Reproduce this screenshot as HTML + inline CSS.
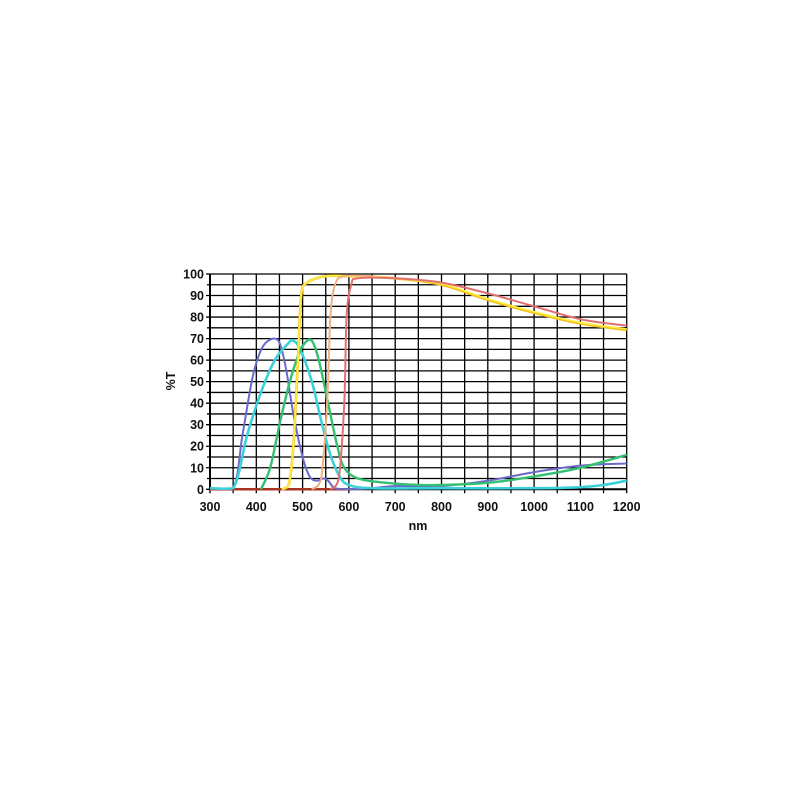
<!DOCTYPE html>
<html><head><style>body{margin:0;background:#fff}svg{display:block}text{font-family:"Liberation Sans",Arial,sans-serif;font-weight:bold;font-size:12.5px;fill:#111}</style></head>
<body>
<svg width="800" height="800" viewBox="0 0 800 800" id="s"></svg>
<script>
const s=document.getElementById('s');const NS='http://www.w3.org/2000/svg';
const X=n=>210+(n-300)*416.7/900, Y=p=>489.3-p*2.153;
function el(t,a,txt){const e=document.createElementNS(NS,t);for(const k in a)e.setAttribute(k,a[k]);if(txt!==undefined)e.textContent=txt;s.appendChild(e);return e;}
for(let p=0;p<=100;p+=5)el('line',{x1:X(300)-(p%10?3:4),x2:X(1200),y1:Y(p),y2:Y(p),stroke:'#000','stroke-width':1.3});
for(let n=300;n<=1200;n+=50)el('line',{x1:X(n),x2:X(n),y1:Y(100),y2:Y(0)+4,stroke:'#000','stroke-width':1.3});
el('line',{x1:X(300),x2:X(300),y1:Y(100),y2:Y(0),stroke:'#000','stroke-width':2});
el('line',{x1:X(300),x2:X(1200),y1:Y(0),y2:Y(0),stroke:'#000','stroke-width':2});
for(let p=0;p<=100;p+=10)el('text',{x:X(300)-6,y:Y(p)+4.5,'text-anchor':'end'},p);
for(let n=300;n<=1200;n+=100)el('text',{x:X(n),y:511,'text-anchor':'middle'},n);
el('text',{x:418,y:530,'text-anchor':'middle'},'nm');
el('text',{x:0,y:0,'text-anchor':'middle',transform:'translate(175,381) rotate(-90)','font-size':'11px'},'%T');
const cl=y=>Math.min(Y(0),Math.max(Y(100),y));
function curve(pts,c,w){const xs=[],ys=[];for(let i=0;i<pts.length;i+=2){xs.push(pts[i]);ys.push(pts[i+1]);}
let str='M'+X(xs[0])+','+Y(ys[0]);
for(let i=0;i<xs.length-1;i++){const p0=[X(xs[Math.max(0,i-1)]),Y(ys[Math.max(0,i-1)])],p1=[X(xs[i]),Y(ys[i])],p2=[X(xs[i+1]),Y(ys[i+1])],p3=[X(xs[Math.min(xs.length-1,i+2)]),Y(ys[Math.min(xs.length-1,i+2)])];
str+=' C'+(p1[0]+(p2[0]-p0[0])/6)+','+cl(p1[1]+(p2[1]-p0[1])/6)+' '+(p2[0]-(p3[0]-p1[0])/6)+','+cl(p2[1]-(p3[1]-p1[1])/6)+' '+p2[0]+','+p2[1];}
el('path',{d:str,fill:'none',stroke:c,'stroke-width':w||2.2,'stroke-linejoin':'round'});}
curve([300,0,600,0],'#aa3322',2.5);
curve([300,0.5,350,0.5,370,25,390,50,405,62,420,68,440,70,452,67,465,55,480,35,500,15,515,6,530,4,545,5,555,4,570,0.5,600,0,650,0.5,700,1.5,800,1.5,900,4,1000,8,1100,11,1200,12],'#6a6acc',2);
curve([300,0.5,350,0.5,380,25,410,45,440,60,470,68,480,69,495,65,520,50,540,32,560,16,580,6,600,2,650,0.5,800,0.5,1000,0.5,1100,1,1150,2,1200,4],'#3cd0d8',2.6);
curve([410,0,430,10,450,30,470,48,490,62,505,68,520,69,535,60,555,40,575,20,590,10,620,5,680,3,750,2,800,2,900,3,1000,6,1100,10,1200,16],'#33c070',2.4);
curve([455,0,470,2,480,20,490,60,497,90,510,96,550,99,600,99,700,98,800,95,900,88,1000,82,1100,77,1200,74],'#f0c020',2.6);
curve([455,0,470,2,480,20,490,60,497,90,510,96,550,99,600,99,700,98,800,95.5,900,88.5,1000,82.5,1100,77.5,1200,74.5],'#ffee44',1.6);
curve([520,0,540,5,553,40,560,80,570,95,590,99,650,99],'#f0b080',2);
curve([560,0,578,5,590,40,595,80,605,95,620,98,700,98,800,96,900,91,1000,85,1100,79,1200,76],'#e07070',2);
</script>
</body></html>
